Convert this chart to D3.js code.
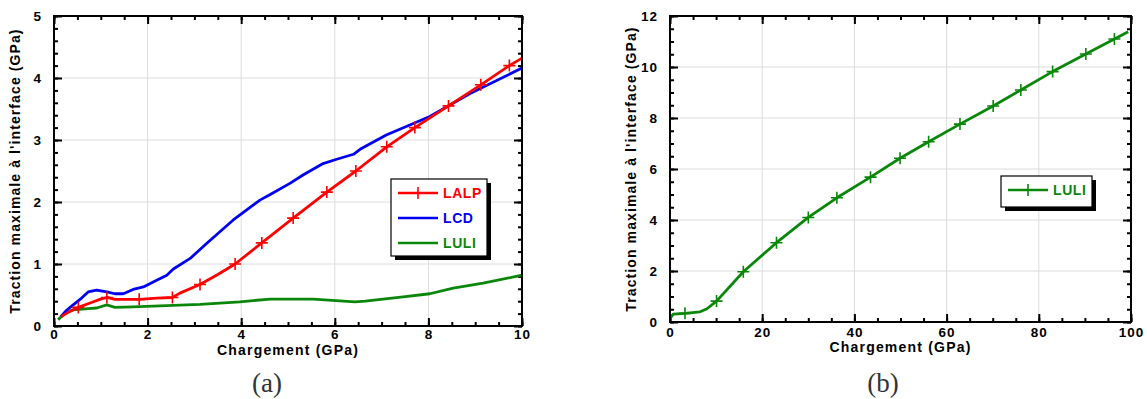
<!DOCTYPE html>
<html><head><meta charset="utf-8">
<script src="https://cdn.jsdelivr.net/npm/d3@7"></script>
<style>
html,body{margin:0;padding:0;background:#fff;}
svg{display:block;}
</style></head>
<body>
<svg id="chart" width="1147" height="399"></svg>
<script>
// ---------- DATA ----------
// Panel (a)
const lalpX = [0.15,0.3,0.52,0.77,0.98,1.13,1.3,1.82,2.2,2.53,2.69,3.12,3.5,3.87,4.44,5.11,5.83,6.45,7.11,7.71,8.43,9.12,9.73,10];
const lalpY = [0.15,0.22,0.3,0.37,0.43,0.46,0.43,0.43,0.45,0.46,0.53,0.67,0.83,1.0,1.34,1.74,2.16,2.5,2.89,3.2,3.55,3.89,4.2,4.32];
const lalpMarkX = [0.52,1.13,1.82,2.53,3.12,3.87,4.44,5.11,5.83,6.45,7.11,7.71,8.43,9.12,9.73];
const lalpMarkY = [0.3,0.46,0.43,0.46,0.67,1.0,1.34,1.74,2.16,2.5,2.89,3.2,3.55,3.89,4.2];

const lcdX = [0.15,0.25,0.41,0.59,0.73,0.91,1.13,1.3,1.48,1.69,1.91,2.12,2.41,2.55,2.91,3.26,3.83,4.4,4.62,5.04,5.33,5.75,6.04,6.4,6.54,7.1,8.03,8.89,10];
const lcdY = [0.15,0.24,0.34,0.45,0.55,0.58,0.55,0.52,0.52,0.59,0.63,0.71,0.82,0.92,1.09,1.33,1.71,2.03,2.12,2.3,2.44,2.62,2.69,2.77,2.85,3.08,3.38,3.75,4.16];

const luliAX = [0.09,0.2,0.41,0.73,0.91,1.13,1.3,1.69,3.12,3.97,4.62,5.54,6.43,6.65,7.46,8.03,8.53,9.17,10];
const luliAY = [0.1,0.19,0.26,0.28,0.29,0.34,0.3,0.31,0.35,0.39,0.435,0.435,0.39,0.4,0.47,0.52,0.61,0.69,0.82];

// Panel (b)
const luliBX = [0,0.72,3.25,6.5,7.95,10.1,15.9,23.1,30,36.2,43.5,49.9,56.1,62.9,70.1,76.1,83,90.2,96.4,99.4];
const luliBY = [0.14,0.31,0.34,0.4,0.51,0.82,1.97,3.11,4.1,4.87,5.68,6.42,7.07,7.76,8.47,9.1,9.82,10.51,11.1,11.38];
const luliBMarkX = [3.25,10.1,15.9,23.1,30,36.2,43.5,49.9,56.1,62.9,70.1,76.1,83,90.2,96.4];
const luliBMarkY = [0.34,0.82,1.97,3.11,4.1,4.87,5.68,6.42,7.07,7.76,8.47,9.1,9.82,10.51,11.1];

// Ticks
const aXTicks = [0,2,4,6,8,10];
const aYTicks = [0,1,2,3,4,5];
const bXTicks = [0,20,40,60,80,100];
const bYTicks = [0,2,4,6,8,10,12];

const xTitle = "Chargement (GPa)";
const yTitle = "Traction maximale à l'interface (GPa)";
const legendA = ["LALP","LCD","LULI"];
const legendB = ["LULI"];
const panelLabels = ["(a)","(b)"];

// ---------- DRAW ----------
const svg = d3.select("#chart");
const SANS = "'Liberation Sans',Arial,sans-serif";
const SERIF = "'Liberation Serif','Times New Roman',serif";
const RED = "#ff0000", BLUE = "#0000f0", GREEN = "#0a870a";

function panel(cfg){
  const g = svg.append("g").style("font-family", SANS);
  const x = d3.scaleLinear().domain(cfg.xDom).range([cfg.left, cfg.right]);
  const y = d3.scaleLinear().domain(cfg.yDom).range([cfg.bottom, cfg.top]);
  const w = cfg.right - cfg.left, h = cfg.bottom - cfg.top;

  // grid
  g.append("g").selectAll("line").data(cfg.xTicks.slice(1,-1)).join("line")
    .attr("x1",d=>x(d)).attr("x2",d=>x(d)).attr("y1",cfg.top).attr("y2",cfg.bottom)
    .attr("stroke","#dcdcdc").attr("stroke-width",1);
  g.append("g").selectAll("line").data(cfg.yTicks.slice(1,-1)).join("line")
    .attr("y1",d=>y(d)).attr("y2",d=>y(d)).attr("x1",cfg.left).attr("x2",cfg.right)
    .attr("stroke","#dcdcdc").attr("stroke-width",1);

  const xMinor = d3.range(cfg.xDom[0], cfg.xDom[1]+1e-9, cfg.xMinorStep);
  const yMinor = d3.range(cfg.yDom[0], cfg.yDom[1]+1e-9, cfg.yMinorStep);
  const styleAxis = sel => { sel.select(".domain").remove(); sel.selectAll("line").attr("stroke","#000").attr("stroke-width",2); };

  // bottom
  g.append("g").attr("transform",`translate(0,${cfg.bottom})`)
    .call(d3.axisBottom(x).tickValues(xMinor).tickSize(-4).tickFormat(""))
    .call(styleAxis);
  const xa = g.append("g").attr("transform",`translate(0,${cfg.bottom})`)
    .call(d3.axisBottom(x).tickValues(cfg.xTicks).tickSize(-8).tickFormat(d3.format("d")))
    .call(styleAxis);
  xa.selectAll("text").style("font-family",SANS).attr("font-size",13.5).attr("font-weight","bold")
    .attr("letter-spacing","1px").attr("fill","#000").attr("y",cfg.xLabelBase).attr("dy",0);
  // top
  g.append("g").attr("transform",`translate(0,${cfg.top})`)
    .call(d3.axisTop(x).tickValues(xMinor).tickSize(-4).tickFormat("")).call(styleAxis);
  g.append("g").attr("transform",`translate(0,${cfg.top})`)
    .call(d3.axisTop(x).tickValues(cfg.xTicks).tickSize(-8).tickFormat("")).call(styleAxis);
  // left
  g.append("g").attr("transform",`translate(${cfg.left},0)`)
    .call(d3.axisLeft(y).tickValues(yMinor).tickSize(-4).tickFormat("")).call(styleAxis);
  const ya = g.append("g").attr("transform",`translate(${cfg.left},0)`)
    .call(d3.axisLeft(y).tickValues(cfg.yTicks).tickSize(-8).tickPadding(12).tickFormat(d3.format("d")))
    .call(styleAxis);
  ya.selectAll("text").style("font-family",SANS).attr("font-size",13.5).attr("font-weight","bold")
    .attr("letter-spacing","1px").attr("fill","#000");
  // right
  g.append("g").attr("transform",`translate(${cfg.right},0)`)
    .call(d3.axisRight(y).tickValues(yMinor).tickSize(-4).tickFormat("")).call(styleAxis);
  g.append("g").attr("transform",`translate(${cfg.right},0)`)
    .call(d3.axisRight(y).tickValues(cfg.yTicks).tickSize(-8).tickFormat("")).call(styleAxis);

  // series
  const line = d3.line().x(d=>x(d[0])).y(d=>y(d[1]));
  cfg.series.forEach(s=>{
    const pts = d3.zip(s.xs, s.ys);
    g.append("path").datum(pts).attr("d",line).attr("fill","none")
      .attr("stroke",s.color).attr("stroke-width",2.8).attr("stroke-linejoin","round");
    if (s.mx){
      const mp = d3.zip(s.mx, s.my);
      g.append("g").selectAll("path").data(mp).join("path")
        .attr("d",d=>{const cx=x(d[0]),cy=y(d[1]),r=6;return `M${cx-r},${cy}H${cx+r}M${cx},${cy-r}V${cy+r}`;})
        .attr("stroke",s.color).attr("stroke-width",1.6).attr("fill","none");
    }
  });

  // frame
  g.append("rect").attr("x",cfg.left).attr("y",cfg.top).attr("width",w).attr("height",h)
    .attr("fill","none").attr("stroke","#000").attr("stroke-width",2);

  // titles
  g.append("text").attr("x",(cfg.left+cfg.right)/2).attr("y",cfg.xTitleBase)
    .attr("text-anchor","middle").attr("font-size",14).attr("font-weight","bold")
    .attr("letter-spacing","1.2px").text(xTitle);
  g.append("text").attr("transform",`translate(${cfg.yTitleX},${(cfg.top+cfg.bottom)/2}) rotate(-90)`)
    .attr("text-anchor","middle").attr("font-size",14).attr("font-weight","bold")
    .attr("letter-spacing","1.1px").text(yTitle);
  g.append("text").attr("x",cfg.labelX).attr("y",392).attr("text-anchor","middle")
    .style("font-family",SERIF).attr("font-size",27)
    .attr("fill","#333").text(cfg.label);

  // legend
  const L = cfg.legend;
  g.append("rect").attr("x",L.x+4).attr("y",L.y+4).attr("width",L.w).attr("height",L.h).attr("fill","#000");
  g.append("rect").attr("x",L.x).attr("y",L.y).attr("width",L.w).attr("height",L.h)
    .attr("fill","#fff").attr("stroke","#000").attr("stroke-width",1.2);
  L.items.forEach((it,i)=>{
    const yy = L.y + 14 + i*L.step;
    g.append("line").attr("x1",L.x+7).attr("x2",L.x+47).attr("y1",yy).attr("y2",yy)
      .attr("stroke",it.color).attr("stroke-width",2.4);
    if (it.marker) g.append("line").attr("x1",L.x+27).attr("x2",L.x+27).attr("y1",yy-6).attr("y2",yy+6)
      .attr("stroke",it.color).attr("stroke-width",1.6);
    g.append("text").attr("x",L.x+52).attr("y",yy).attr("dy","0.36em").attr("font-size",14)
      .attr("font-weight","bold").attr("letter-spacing","0.6px").attr("fill",it.color).text(it.name);
  });
}

panel({
  left:54, right:522, top:16, bottom:326,
  xDom:[0,10], yDom:[0,5], xTicks:aXTicks, yTicks:aYTicks, xMinorStep:0.5, yMinorStep:0.2,
  xLabelBase:13, xTitleBase:355,
  yTitleX:20, labelX:267, label:panelLabels[0],
  series:[
    {xs:luliAX, ys:luliAY, color:GREEN},
    {xs:lcdX, ys:lcdY, color:BLUE},
    {xs:lalpX, ys:lalpY, color:RED, mx:lalpMarkX, my:lalpMarkY}
  ],
  legend:{x:391, y:179, w:96, h:77, step:25,
    items:[{name:legendA[0],color:RED,marker:true},{name:legendA[1],color:BLUE},{name:legendA[2],color:GREEN}]}
});

panel({
  left:670, right:1131, top:16, bottom:322,
  xDom:[0,100], yDom:[0,12], xTicks:bXTicks, yTicks:bYTicks, xMinorStep:5, yMinorStep:0.5,
  xLabelBase:15, xTitleBase:352,
  yTitleX:636, labelX:883, label:panelLabels[1],
  series:[
    {xs:luliBX, ys:luliBY, color:GREEN, mx:luliBMarkX, my:luliBMarkY}
  ],
  legend:{x:1001, y:176, w:91, h:31, step:25,
    items:[{name:legendB[0],color:GREEN,marker:true}]}
});
</script>
</body></html>
